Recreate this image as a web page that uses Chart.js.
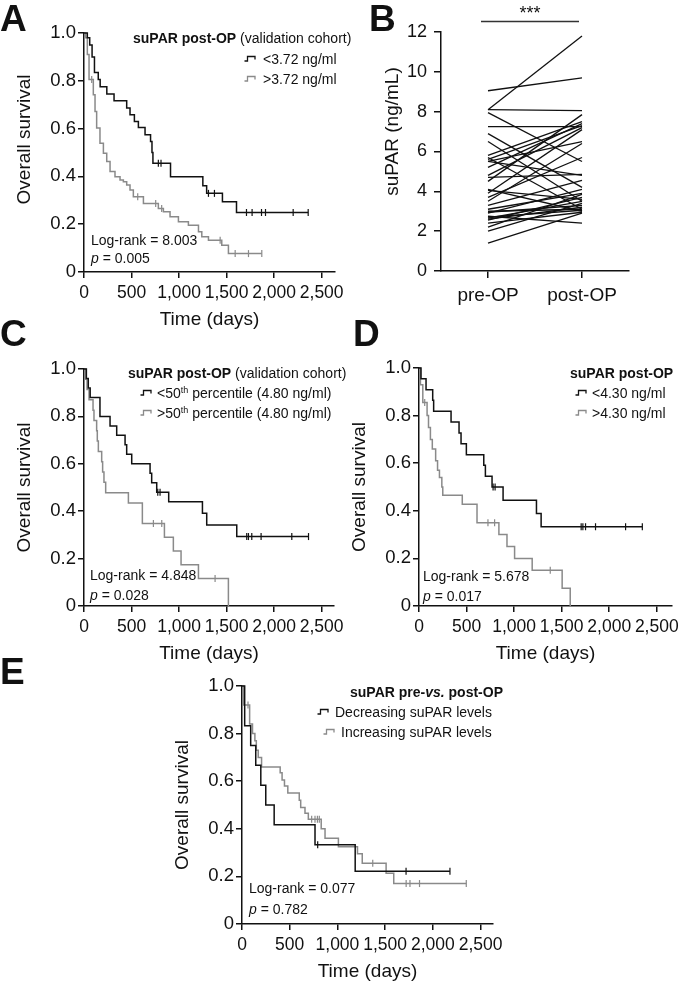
<!DOCTYPE html>
<html><head><meta charset="utf-8">
<script src="https://cdn.jsdelivr.net/npm/chart.js@4.4.1/dist/chart.umd.min.js"></script>
<style>
html,body{margin:0;padding:0;background:#fff;}
body{width:681px;height:983px;position:relative;overflow:hidden;font-family:"Liberation Sans",Arial,Helvetica,sans-serif;color:#111;}
canvas{position:absolute;}
.t{position:absolute;white-space:nowrap;font-size:14px;line-height:16px;}
.t svg{vertical-align:middle;margin-top:-3px;}
.lab{position:absolute;font-weight:bold;font-size:37px;line-height:37px;}
.sup{font-size:9px;position:relative;top:-5px;line-height:0;}
</style></head><body>
<canvas id="cA"></canvas><canvas id="cB"></canvas><canvas id="cC"></canvas><canvas id="cD"></canvas><canvas id="cE"></canvas>

<div class="lab" style="left:0;top:0">A</div>
<div class="lab" style="left:369px;top:0">B</div>
<div class="lab" style="left:0;top:315px">C</div>
<div class="lab" style="left:353px;top:315px">D</div>
<div class="lab" style="left:0;top:653px">E</div>

<div class="t" style="left:133px;top:30px"><b>suPAR post-OP</b> (validation cohort)</div>
<div class="t" style="left:244px;top:51px"><svg width="12" height="7"><path d="M0.5,6 H3.5 V1.5 H11 V4.5" fill="none" stroke="#111" stroke-width="1.3"/></svg><span style="margin-left:7px">&lt;3.72 ng/ml</span></div>
<div class="t" style="left:244px;top:71px"><svg width="12" height="7"><path d="M0.5,6 H3.5 V1.5 H11 V4.5" fill="none" stroke="#8a8a8a" stroke-width="1.3"/></svg><span style="margin-left:7px">&gt;3.72 ng/ml</span></div>
<div class="t" style="left:91px;top:232px">Log-rank = 8.003</div>
<div class="t" style="left:91px;top:250px"><i>p</i> = 0.005</div>

<div class="t" style="left:500px;top:4px;width:60px;text-align:center;font-size:18px;line-height:18px">***</div>

<div class="t" style="left:128px;top:365px"><b>suPAR post-OP</b> (validation cohort)</div>
<div class="t" style="left:140px;top:385px"><svg width="12" height="7"><path d="M0.5,6 H3.5 V1.5 H11 V4.5" fill="none" stroke="#111" stroke-width="1.3"/></svg><span style="margin-left:5px">&lt;50<span class="sup">th</span> percentile (4.80 ng/ml)</span></div>
<div class="t" style="left:140px;top:405px"><svg width="12" height="7"><path d="M0.5,6 H3.5 V1.5 H11 V4.5" fill="none" stroke="#8a8a8a" stroke-width="1.3"/></svg><span style="margin-left:5px">&gt;50<span class="sup">th</span> percentile (4.80 ng/ml)</span></div>
<div class="t" style="left:90px;top:567px">Log-rank = 4.848</div>
<div class="t" style="left:90px;top:587px"><i>p</i> = 0.028</div>

<div class="t" style="left:570px;top:365px"><b>suPAR post-OP</b></div>
<div class="t" style="left:575px;top:385px"><svg width="12" height="7"><path d="M0.5,6 H3.5 V1.5 H11 V4.5" fill="none" stroke="#111" stroke-width="1.3"/></svg><span style="margin-left:5px">&lt;4.30 ng/ml</span></div>
<div class="t" style="left:575px;top:405px"><svg width="12" height="7"><path d="M0.5,6 H3.5 V1.5 H11 V4.5" fill="none" stroke="#8a8a8a" stroke-width="1.3"/></svg><span style="margin-left:5px">&gt;4.30 ng/ml</span></div>
<div class="t" style="left:423px;top:568px">Log-rank = 5.678</div>
<div class="t" style="left:423px;top:588px"><i>p</i> = 0.017</div>

<div class="t" style="left:350px;top:684px"><b>suPAR pre-<i>vs.</i> post-OP</b></div>
<div class="t" style="left:317px;top:704px"><svg width="12" height="7"><path d="M0.5,6 H3.5 V1.5 H11 V4.5" fill="none" stroke="#111" stroke-width="1.3"/></svg><span style="margin-left:6px">Decreasing suPAR levels</span></div>
<div class="t" style="left:323px;top:724px"><svg width="12" height="7"><path d="M0.5,6 H3.5 V1.5 H11 V4.5" fill="none" stroke="#8a8a8a" stroke-width="1.3"/></svg><span style="margin-left:6px">Increasing suPAR levels</span></div>
<div class="t" style="left:249px;top:880px">Log-rank = 0.077</div>
<div class="t" style="left:249px;top:901px"><i>p</i> = 0.782</div>

<script>
// ---------- tick labels / categories ----------
const kmTickX = [0, 500, 1000, 1500, 2000, 2500];
const kmTickY = [0, 0.2, 0.4, 0.6, 0.8, 1.0];
const bTickY = [0, 2, 4, 6, 8, 10, 12];
const bCategories = ['pre-OP', 'post-OP'];

// ---------- Panel A (cut-off 3.72 ng/ml) ----------
const aLowTimes  = [0, 35, 60, 85, 110, 150, 170, 240, 316, 449, 484, 530, 572, 642, 700, 715, 725, 910, 1250, 1290, 1456, 1604, 2358];
const aLowSurv   = [1, 0.98, 0.95, 0.90, 0.835, 0.805, 0.775, 0.745, 0.717, 0.686, 0.658, 0.63, 0.605, 0.574, 0.546, 0.50, 0.455, 0.399, 0.361, 0.329, 0.294, 0.249, 0.249];
const aLowCensor = [782, 810, 1309, 1372, 1709, 1768, 1867, 1909, 2200, 2358];
const aHighTimes  = [0, 18, 35, 53, 98, 116, 133, 168, 204, 239, 274, 326, 379, 414, 449, 484, 519, 625, 782, 835, 905, 993, 1098, 1204, 1239, 1309, 1449, 1519, 1870];
const aHighSurv   = [1, 0.98, 0.91, 0.805, 0.742, 0.672, 0.602, 0.539, 0.497, 0.462, 0.42, 0.399, 0.385, 0.378, 0.364, 0.343, 0.315, 0.287, 0.266, 0.252, 0.231, 0.21, 0.196, 0.168, 0.147, 0.133, 0.112, 0.077, 0.077];
const aHighCensor = [81, 565, 754, 817, 1432, 1590, 1730, 1870];

// ---------- Panel B (paired suPAR, ng/mL) ----------
const bPre  = [8.1, 9.05, 8.1, 7.95, 7.25, 6.9, 6.5, 5.8, 5.7, 5.6, 5.5, 5.5, 5.2, 4.8, 4.7, 4.5, 4.1, 4.05, 3.9, 3.7, 3.5, 3.3, 3.1, 2.95, 2.9, 2.75, 2.65, 2.6, 2.55, 2.4, 2.2, 2.0, 1.4, 3.0, 2.7];
const bPost = [11.8, 9.7, 8.05, 5.5, 7.25, 4.2, 3.5, 7.5, 3.1, 7.3, 4.8, 6.5, 7.4, 7.2, 4.85, 7.85, 3.0, 3.6, 7.1, 5.7, 6.4, 4.55, 3.9, 3.3, 4.1, 2.4, 3.5, 3.2, 3.7, 2.95, 3.85, 3.4, 2.9, 3.1, 3.05];

// ---------- Panel C (50th percentile, 4.80 ng/ml) ----------
const cLowTimes  = [0, 25, 45, 65, 168, 274, 344, 432, 449, 502, 695, 712, 765, 891, 1246, 1291, 1607, 2362];
const cLowSurv   = [1, 0.96, 0.92, 0.88, 0.80, 0.76, 0.72, 0.68, 0.64, 0.60, 0.56, 0.52, 0.48, 0.44, 0.391, 0.342, 0.293, 0.293];
const cLowCensor = [776, 800, 1712, 1730, 1765, 1863, 2186, 2362];
const cHighTimes  = [0, 18, 32, 53, 95, 105, 133, 140, 151, 186, 196, 210, 228, 467, 614, 846, 940, 1021, 1204, 1519];
const cHighSurv   = [1, 0.957, 0.913, 0.87, 0.826, 0.783, 0.739, 0.696, 0.652, 0.609, 0.565, 0.522, 0.478, 0.435, 0.348, 0.29, 0.232, 0.174, 0.116, 0];
const cHighCensor = [730, 818, 1379];

// ---------- Panel D (cut-off 4.30 ng/ml) ----------
const dLowTimes  = [0, 21, 74, 144, 154, 337, 421, 442, 498, 681, 698, 768, 884, 1235, 1284, 2348];
const dLowSurv   = [1, 0.955, 0.909, 0.864, 0.818, 0.773, 0.727, 0.682, 0.636, 0.591, 0.545, 0.5, 0.444, 0.389, 0.333, 0.333];
const dLowCensor = [779, 800, 1705, 1723, 1751, 1856, 2172, 2348];
const dHighTimes  = [0, 15, 40, 85, 100, 120, 140, 175, 195, 215, 240, 250, 455, 610, 840, 925, 1005, 1190, 1505, 1590];
const dHighSurv   = [1, 0.93, 0.855, 0.80, 0.75, 0.70, 0.66, 0.61, 0.57, 0.54, 0.50, 0.465, 0.428, 0.35, 0.30, 0.25, 0.20, 0.15, 0.075, 0];
const dHighCensor = [60, 725, 795, 1380];

// ---------- Panel E (pre vs post change) ----------
const eDecTimes  = [0, 28, 91, 144, 197, 249, 337, 765, 1186, 2179];
const eDecSurv   = [1, 0.833, 0.75, 0.667, 0.583, 0.5, 0.417, 0.333, 0.222, 0.222];
const eDecCensor = [793, 1719, 2179];
const eIncTimes  = [0, 18, 80, 110, 135, 150, 170, 205, 400, 420, 445, 480, 600, 615, 660, 695, 830, 870, 1010, 1210, 1260, 1510, 1590, 2350];
const eIncSurv   = [1, 0.92, 0.84, 0.80, 0.77, 0.73, 0.70, 0.66, 0.635, 0.605, 0.58, 0.55, 0.52, 0.49, 0.465, 0.44, 0.40, 0.36, 0.325, 0.295, 0.255, 0.213, 0.17, 0.17];
const eIncCensor = [63, 730, 765, 790, 810, 1370, 1720, 1760, 1860, 2350];

// ---------- drawing ----------
const FONT = "'Liberation Sans', Arial, Helvetica, sans-serif";
const INK = '#111111';
const GREY = '#8a8a8a';

function stepValue(times, surv, t) {
  let v = surv[0];
  for (let i = 0; i < times.length; i++) if (times[i] <= t) v = surv[i];
  return v;
}
function kmDatasets(times, surv, censor, color) {
  return [
    { data: times.map((t, i) => ({x: t, y: surv[i]})), stepped: 'before', borderColor: color,
      borderWidth: 1.5, pointRadius: 0, fill: false, clip: false },
    { data: censor.map(t => ({x: t, y: stepValue(times, surv, t)})), showLine: false,
      pointStyle: 'line', pointRotation: 90, pointRadius: 3.5, pointBorderWidth: 1.2,
      pointBorderColor: color, pointBackgroundColor: color, borderColor: color, clip: false }
  ];
}

const titleShift = {
  id: 'titleShift',
  afterLayout(chart, args, opts) {
    const dy = opts.dy || 0;
    const s = chart.scales.y;
    if (!dy || s._shiftWrapped) return;
    const orig = s.drawTitle.bind(s);
    s.drawTitle = function () {
      const t = this.top, b = this.bottom;
      this.top -= dy; this.bottom -= dy;
      orig();
      this.top = t; this.bottom = b;
    };
    s._shiftWrapped = true;
  }
};

function placeCanvas(id, left, top, w, h) {
  const cv = document.getElementById(id);
  cv.width = w; cv.height = h;
  cv.style.left = left + 'px'; cv.style.top = top + 'px';
  cv.style.width = w + 'px'; cv.style.height = h + 'px';
  return cv;
}

function axisCommon(tickLen) {
  return {
    grid: { display: true, drawOnChartArea: false, drawTicks: true, tickLength: tickLen,
            color: INK, tickColor: INK, lineWidth: 1.5, tickWidth: 1.5 },
    border: { display: true, color: INK, width: 1.5 }
  };
}

function makeKM(id, g, datasets, xmax, shift) {
  const YW = 84, PT = 16, PR = 25, XH = 64;
  const cv = placeCanvas(id, g.L - YW, g.T - PT, YW + (g.R - g.L) + PR, PT + (g.B - g.T) + XH);
  return new Chart(cv, {
    type: 'line',
    data: { datasets },
    options: {
      responsive: false, maintainAspectRatio: false, animation: false, devicePixelRatio: 1, events: [],
      layout: { padding: { left: 0, top: PT, right: PR, bottom: 0 } },
      plugins: { legend: { display: false }, tooltip: { enabled: false }, titleShift: { dy: shift } },
      scales: {
        x: Object.assign(axisCommon(6), {
          type: 'linear', min: 0, max: xmax,
          afterFit: s => { s.height = XH; },
          afterBuildTicks: s => { s.ticks = kmTickX.map(v => ({value: v})); },
          ticks: { color: INK, font: { family: FONT, size: 17.5 }, padding: 5, maxRotation: 0, autoSkip: false,
                   callback: v => Number(v).toLocaleString('en-US') },
          title: { display: true, text: 'Time (days)', color: INK, font: { family: FONT, size: 19 },
                   padding: { top: 0, bottom: 5 } }
        }),
        y: Object.assign(axisCommon(6), {
          min: 0, max: 1,
          afterFit: s => { s.width = YW; },
          afterBuildTicks: s => { s.ticks = kmTickY.map(v => ({value: v})); },
          ticks: { color: INK, font: { family: FONT, size: 18.5 }, padding: 2, autoSkip: false,
                   callback: v => (v === 0 ? '0' : Number(v).toFixed(1)) },
          title: { display: true, text: 'Overall survival', color: INK, font: { family: FONT, size: 19 },
                   padding: { top: 13.6, bottom: 0 } }
        })
      }
    },
    plugins: [titleShift]
  });
}

makeKM('cA', {L: 84, R: 335, T: 33, B: 272},
  kmDatasets(aLowTimes, aLowSurv, aLowCensor, INK).concat(kmDatasets(aHighTimes, aHighSurv, aHighCensor, GREY)), 2640, 13);
makeKM('cC', {L: 84, R: 334, T: 369, B: 606},
  kmDatasets(cLowTimes, cLowSurv, cLowCensor, INK).concat(kmDatasets(cHighTimes, cHighSurv, cHighCensor, GREY)), 2630, 0);
makeKM('cD', {L: 419, R: 672, T: 368, B: 606},
  kmDatasets(dLowTimes, dLowSurv, dLowCensor, INK).concat(kmDatasets(dHighTimes, dHighSurv, dHighCensor, GREY)), 2660, 0);
makeKM('cE', {L: 242, R: 493, T: 686, B: 924},
  kmDatasets(eDecTimes, eDecSurv, eDecCensor, INK).concat(kmDatasets(eIncTimes, eIncSurv, eIncCensor, GREY)), 2630, 0);

// Panel B
const sigBar = {
  id: 'sigBar',
  afterDraw(chart) {
    const x = chart.scales.x, ctx = chart.ctx;
    const y = chart.chartArea.top - 10.5;
    ctx.save();
    ctx.strokeStyle = '#333'; ctx.lineWidth = 1.5;
    ctx.beginPath();
    ctx.moveTo(x.getPixelForValue(0) - 7, y);
    ctx.lineTo(x.getPixelForValue(1) - 3, y);
    ctx.stroke();
    ctx.restore();
  }
};
(function () {
  const YW = 70, PT = 22, PR = 10, XH = 42;
  const g = {L: 441, R: 629, T: 32, B: 271};
  const cv = placeCanvas('cB', g.L - YW, g.T - PT, YW + (g.R - g.L) + PR, PT + (g.B - g.T) + XH);
  const datasets = bPre.map((p, i) => ({
    data: [p, bPost[i]], borderColor: INK, borderWidth: 1.3, pointRadius: 0, fill: false, clip: false
  }));
  new Chart(cv, {
    type: 'line',
    data: { labels: bCategories, datasets },
    options: {
      responsive: false, maintainAspectRatio: false, animation: false, devicePixelRatio: 1, events: [],
      layout: { padding: { left: 0, top: PT, right: PR, bottom: 0 } },
      plugins: { legend: { display: false }, tooltip: { enabled: false }, titleShift: { dy: 20 } },
      scales: {
        x: Object.assign(axisCommon(7), {
          type: 'category', offset: true,
          afterFit: s => { s.height = XH; },
          ticks: { color: INK, font: { family: FONT, size: 19 }, padding: 6, maxRotation: 0, autoSkip: false }
        }),
        y: Object.assign(axisCommon(7), {
          min: 0, max: 12,
          afterFit: s => { s.width = YW; },
          afterBuildTicks: s => { s.ticks = bTickY.map(v => ({value: v})); },
          ticks: { color: INK, font: { family: FONT, size: 18 }, padding: 7, autoSkip: false },
          title: { display: true, text: 'suPAR (ng/mL)', color: INK, font: { family: FONT, size: 19 },
                   padding: { top: 9.9, bottom: 0 } }
        })
      }
    },
    plugins: [titleShift, sigBar]
  });
})();
</script>
</body></html>
